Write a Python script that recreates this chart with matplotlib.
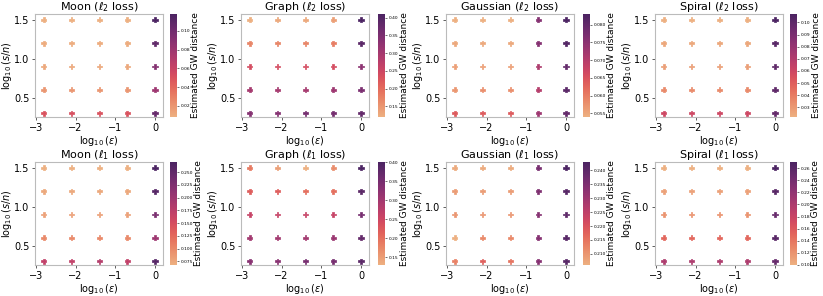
import numpy as np
import matplotlib
matplotlib.use('Agg')
import matplotlib.pyplot as plt
import seaborn as sns

# grid of parameters
log_eps = [-2.8, -2.1, -1.4, -0.7, 0.0]
log_sn = [0.3, 0.6, 0.9, 1.2, 1.5]

datasets = ['Moon', 'Graph', 'Gaussian', 'Spiral']
losses = ['2', '1']

# rows: log10(s/n) from 0.3 to 1.5, columns: log10(eps) from -2.8 to 0
moon_l2 = [[0.050, 0.052, 0.050, 0.050, 0.105],
           [0.020, 0.020, 0.020, 0.020, 0.080],
           [0.012, 0.012, 0.012, 0.012, 0.092],
           [0.010, 0.010, 0.010, 0.010, 0.108],
           [0.008, 0.008, 0.008, 0.008, 0.118]]
graph_l2 = [[0.34, 0.34, 0.36, 0.36, 0.38],
            [0.30, 0.30, 0.30, 0.31, 0.35],
            [0.24, 0.24, 0.24, 0.24, 0.33],
            [0.17, 0.17, 0.17, 0.18, 0.39],
            [0.12, 0.13, 0.13, 0.14, 0.41]]
gauss_l2 = [[0.064, 0.064, 0.064, 0.073, 0.080],
            [0.057, 0.058, 0.058, 0.070, 0.081],
            [0.056, 0.056, 0.056, 0.071, 0.080],
            [0.055, 0.055, 0.055, 0.076, 0.082],
            [0.054, 0.054, 0.054, 0.076, 0.083]]
spiral_l2 = [[0.060, 0.060, 0.060, 0.060, 0.098],
             [0.035, 0.035, 0.035, 0.035, 0.100],
             [0.028, 0.028, 0.028, 0.028, 0.100],
             [0.025, 0.025, 0.025, 0.025, 0.102],
             [0.022, 0.022, 0.022, 0.022, 0.107]]
moon_l1 = [[0.17, 0.17, 0.18, 0.17, 0.26],
           [0.10, 0.10, 0.10, 0.10, 0.20],
           [0.08, 0.08, 0.08, 0.08, 0.23],
           [0.075, 0.075, 0.075, 0.075, 0.26],
           [0.068, 0.068, 0.068, 0.068, 0.27]]
graph_l1 = [[0.33, 0.33, 0.35, 0.35, 0.38],
            [0.30, 0.30, 0.30, 0.31, 0.37],
            [0.26, 0.26, 0.26, 0.26, 0.35],
            [0.22, 0.22, 0.20, 0.20, 0.38],
            [0.19, 0.15, 0.13, 0.17, 0.40]]
gauss_l1 = [[0.213, 0.218, 0.215, 0.234, 0.241],
            [0.206, 0.212, 0.212, 0.234, 0.241],
            [0.210, 0.210, 0.210, 0.234, 0.240],
            [0.209, 0.209, 0.209, 0.235, 0.241],
            [0.207, 0.207, 0.207, 0.236, 0.243]]
spiral_l1 = [[0.20, 0.20, 0.20, 0.20, 0.25],
             [0.15, 0.15, 0.15, 0.15, 0.26],
             [0.12, 0.12, 0.12, 0.12, 0.25],
             [0.11, 0.11, 0.11, 0.11, 0.26],
             [0.10, 0.10, 0.10, 0.10, 0.27]]

values = [[moon_l2, graph_l2, gauss_l2, spiral_l2],
          [moon_l1, graph_l1, gauss_l1, spiral_l1]]

cmap = sns.color_palette('flare', as_cmap=True)

W, H = 823, 296
fig = plt.figure(figsize=(W / 100, H / 100), dpi=100)

ax_left = [35, 241, 446, 655]
ax_w = 128
cb_left = [170, 378, 583, 790]
row_top = [14, 162]
ax_h = 103

X, Y = np.meshgrid(log_eps, log_sn)

for r in range(2):
    for c in range(4):
        ax = fig.add_axes([ax_left[c] / W, 1 - (row_top[r] + ax_h) / H, ax_w / W, ax_h / H])
        cax = fig.add_axes([cb_left[c] / W, 1 - (row_top[r] + ax_h) / H, 7 / W, ax_h / H])
        z = np.array(values[r][c])
        sc = ax.scatter(X.ravel(), Y.ravel(), c=z.ravel(), cmap=cmap, marker='P', s=14,
                        edgecolors='face', linewidths=0.5)
        ax.set_xlim(-3.02, 0.2)
        ax.set_ylim(0.25, 1.575)
        ax.set_xticks([-3, -2, -1, 0])
        ax.set_yticks([0.5, 1.0, 1.5])
        ax.tick_params(labelsize=7, length=2.5, width=0.6, pad=1.5, color='#444444')
        for s in ax.spines.values():
            s.set_color('#bbbbbb')
            s.set_linewidth(0.8)
        ax.set_title(datasets[c] + r' ($\ell_' + losses[r] + r'$ loss)', fontsize=8, pad=2)
        ax.set_xlabel(r'$\log_{10}(\varepsilon)$', fontsize=7, labelpad=1)
        ax.set_ylabel(r'$\log_{10}(s/n)$', fontsize=7, labelpad=0)
        cb = fig.colorbar(sc, cax=cax)
        cb.outline.set_visible(False)
        cb.ax.tick_params(labelsize=3.2, length=1.5, width=0.4, pad=1)
        cb.set_label('Estimated GW distance', fontsize=6.5, labelpad=1)

fig.savefig('out.png', dpi=100)
